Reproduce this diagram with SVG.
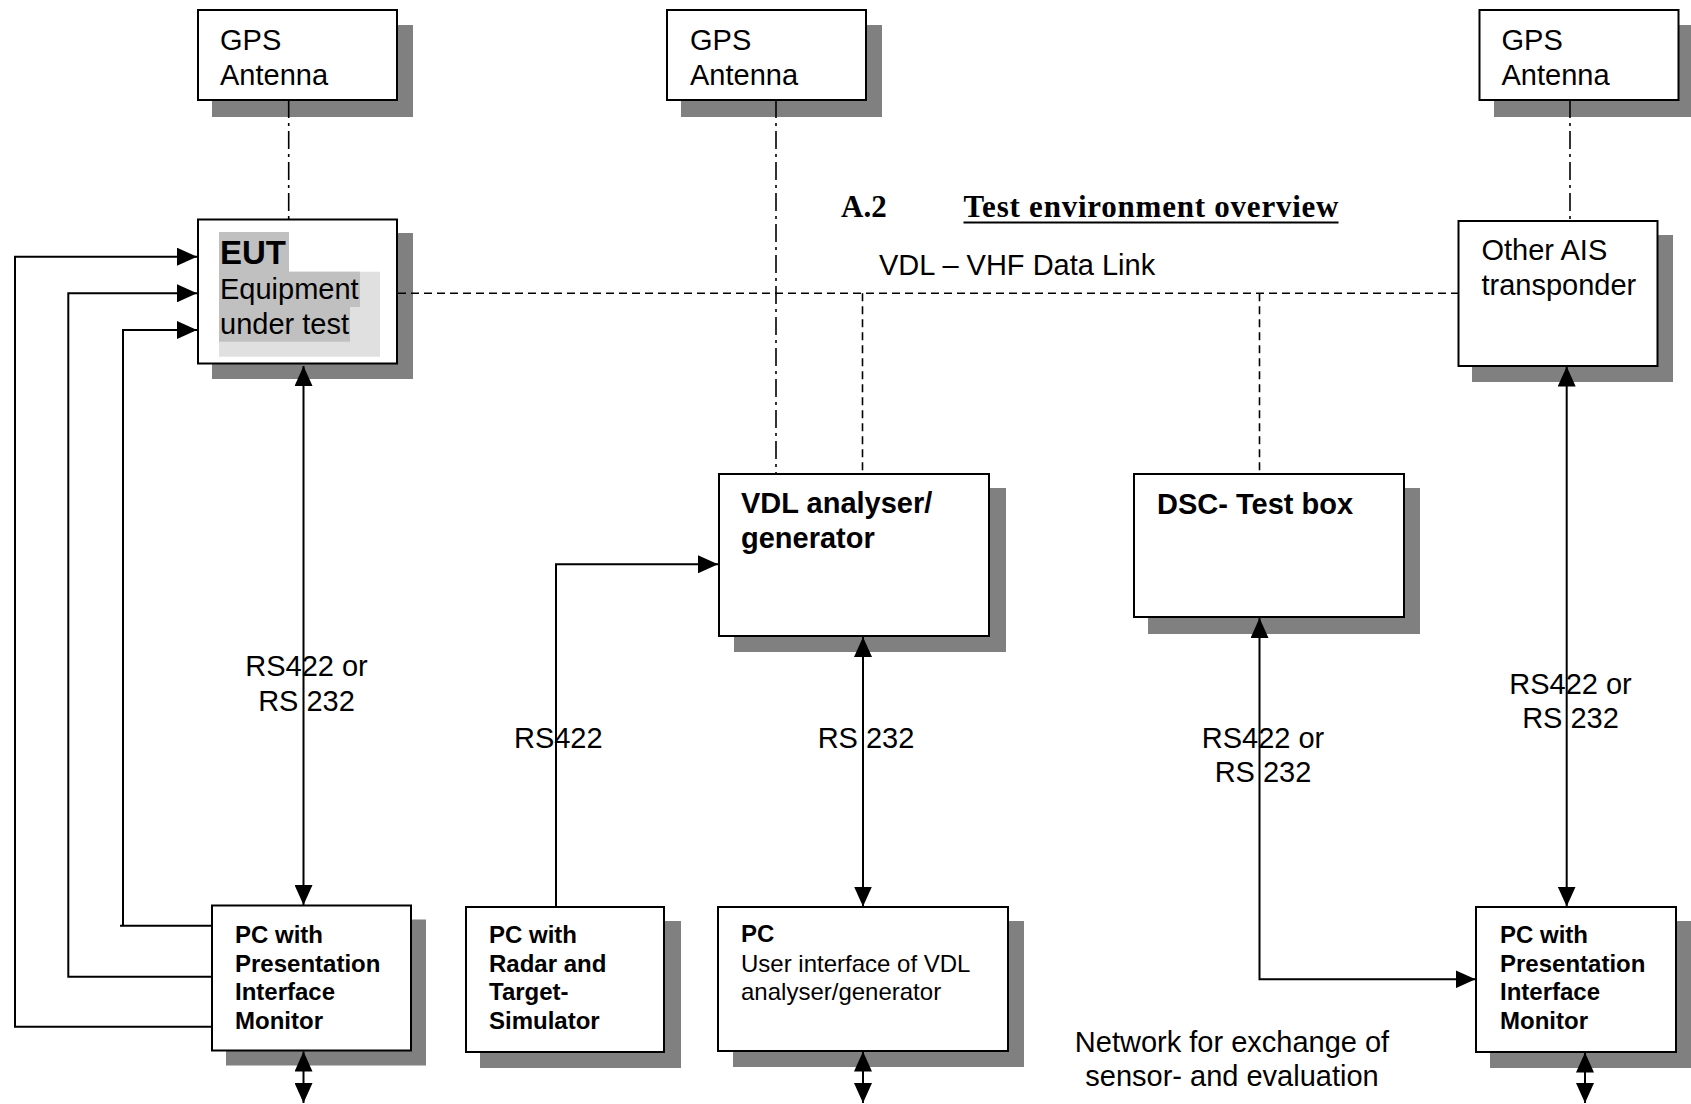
<svg xmlns="http://www.w3.org/2000/svg" width="1691" height="1104" viewBox="0 0 1691 1104">
<style>
.box{fill:#fff;stroke:#000;stroke-width:2}
.sh{fill:#808080}
.t{font-family:"Liberation Sans",Arial,sans-serif;font-size:29px;fill:#000}
.tb{font-family:"Liberation Sans",Arial,sans-serif;font-size:29px;font-weight:bold;fill:#000}
.pb{font-family:"Liberation Sans",Arial,sans-serif;font-size:24px;font-weight:bold;fill:#000}
.pr{font-family:"Liberation Sans",Arial,sans-serif;font-size:24px;fill:#000}
.ln{fill:none;stroke:#000;stroke-width:2}
.dd{fill:none;stroke:#000;stroke-width:1.6;stroke-dasharray:18 5 3 5}
.ds{fill:none;stroke:#000;stroke-width:1.6;stroke-dasharray:8 5}
.title{font-family:"Liberation Serif","Times New Roman",serif;font-size:31px;font-weight:bold;fill:#000}
</style>
<defs>
<marker id="arr" viewBox="0 0 20 18" refX="20" refY="9" markerWidth="20" markerHeight="18" markerUnits="userSpaceOnUse" orient="auto-start-reverse">
<path d="M0,0 L20,9 L0,18 z" fill="#000"/>
</marker>
</defs>

<g id="heading">
<text class="title" x="841" y="217">A.2</text>
<text class="title" x="963.5" y="217" textLength="375" lengthAdjust="spacing">Test environment overview</text>
<line x1="963.5" y1="222.5" x2="1338.5" y2="222.5" stroke="#000" stroke-width="2.2"/>
<text class="t" x="879" y="275">VDL – VHF Data Link</text>
</g>

<g id="gps1">
<rect class="sh" x="212" y="25" width="201" height="92"/>
<rect class="box" x="198" y="10" width="199" height="90"/>
<text class="t" x="220" y="50">GPS</text>
<text class="t" x="220" y="85">Antenna</text>
</g>
<g id="gps2">
<rect class="sh" x="681" y="25" width="201" height="92"/>
<rect class="box" x="667" y="10" width="199" height="90"/>
<text class="t" x="690" y="50">GPS</text>
<text class="t" x="690" y="85">Antenna</text>
</g>
<g id="gps3">
<rect class="sh" x="1494" y="25" width="201" height="92"/>
<rect class="box" x="1479.5" y="10" width="199" height="90"/>
<text class="t" x="1501.5" y="50">GPS</text>
<text class="t" x="1501.5" y="85">Antenna</text>
</g>

<g id="eut">
<rect class="sh" x="212" y="233" width="201" height="146"/>
<rect class="box" x="198" y="219.5" width="199" height="144"/>
<rect x="219" y="271.7" width="161" height="85" fill="#e0e0e0"/>
<rect x="219" y="232" width="70" height="40" fill="#c0c0c0"/>
<rect x="219" y="271.7" width="141" height="35.3" fill="#c0c0c0"/>
<rect x="219" y="306.7" width="131" height="35" fill="#c0c0c0"/>
<text x="220" y="264" font-family="Liberation Sans, Arial, sans-serif" font-size="33" font-weight="bold">EUT</text>
<text class="t" x="220" y="299">Equipment</text>
<text class="t" x="220" y="334">under test</text>
</g>

<g id="other-ais">
<rect class="sh" x="1472" y="235" width="201" height="147"/>
<rect class="box" x="1458.5" y="221" width="199" height="145"/>
<text class="t" x="1481.5" y="260">Other AIS</text>
<text class="t" x="1481.5" y="295">transponder</text>
</g>

<g id="vdl">
<rect class="sh" x="734" y="488" width="272" height="164"/>
<rect class="box" x="719" y="474" width="270" height="162"/>
<text class="tb" x="741" y="513">VDL analyser/</text>
<text class="tb" x="741" y="548">generator</text>
</g>

<g id="dsc">
<rect class="sh" x="1148" y="488" width="272" height="146"/>
<rect class="box" x="1134" y="474" width="270" height="143"/>
<text class="tb" x="1157" y="514">DSC- Test box</text>
</g>

<g id="pc1">
<rect class="sh" x="226" y="919.5" width="200" height="146"/>
<rect class="box" x="212" y="905.5" width="199" height="145"/>
<text class="pb" x="235" y="943">PC with</text>
<text class="pb" x="235" y="971.5">Presentation</text>
<text class="pb" x="235" y="1000">Interface</text>
<text class="pb" x="235" y="1028.5">Monitor</text>
</g>

<g id="pc2">
<rect class="sh" x="480" y="921" width="201" height="147"/>
<rect class="box" x="466" y="907" width="198" height="145"/>
<text class="pb" x="489" y="943">PC with</text>
<text class="pb" x="489" y="971.5">Radar and</text>
<text class="pb" x="489" y="1000">Target-</text>
<text class="pb" x="489" y="1028.5">Simulator</text>
</g>

<g id="pc3">
<rect class="sh" x="733" y="921" width="291" height="146"/>
<rect class="box" x="718" y="907" width="290" height="144"/>
<text class="pb" x="741" y="942">PC</text>
<text class="pr" x="741" y="971.5">User interface of VDL</text>
<text class="pr" x="741" y="1000">analyser/generator</text>
</g>

<g id="pc4">
<rect class="sh" x="1490" y="921" width="205" height="147"/>
<rect class="box" x="1476" y="907" width="200" height="145"/>
<text class="pb" x="1500" y="943">PC with</text>
<text class="pb" x="1500" y="971.5">Presentation</text>
<text class="pb" x="1500" y="1000">Interface</text>
<text class="pb" x="1500" y="1028.5">Monitor</text>
</g>

<g id="network-label">
<text class="t" x="1232" y="1052" text-anchor="middle">Network for exchange of</text>
<text class="t" x="1232" y="1086" text-anchor="middle">sensor- and evaluation</text>
</g>

<g id="connectors">
<line class="dd" x1="288.7" y1="100" x2="288.7" y2="219.5"/>
<line class="dd" x1="776" y1="100" x2="776" y2="474"/>
<line class="dd" x1="1570" y1="100" x2="1570" y2="221"/>
<line class="ds" x1="398" y1="293.3" x2="1458.5" y2="293.3"/>
<line class="ds" x1="862.5" y1="293.3" x2="862.5" y2="474"/>
<line class="ds" x1="1259.5" y1="293.3" x2="1259.5" y2="474"/>

<line class="ln" x1="303.5" y1="366" x2="303.5" y2="905" marker-start="url(#arr)" marker-end="url(#arr)"/>
<polyline class="ln" points="212,1026.7 15,1026.7 15,256.7 197,256.7" marker-end="url(#arr)"/>
<polyline class="ln" points="212,976.7 68.3,976.7 68.3,293.3 197,293.3" marker-end="url(#arr)"/>
<polyline class="ln" points="212,925.7 120,925.7 123,925.7 123,330 197,330" marker-end="url(#arr)"/>

<polyline class="ln" points="556,907 556,564.3 718,564.3" marker-end="url(#arr)"/>
<line class="ln" x1="863" y1="637" x2="863" y2="906.5" marker-start="url(#arr)" marker-end="url(#arr)"/>
<polyline class="ln" points="1259.5,618 1259.5,979.3 1475.5,979.3" marker-start="url(#arr)" marker-end="url(#arr)"/>
<line class="ln" x1="1566.7" y1="366.5" x2="1566.7" y2="906.5" marker-start="url(#arr)" marker-end="url(#arr)"/>

<line class="ln" x1="303.5" y1="1051.5" x2="303.5" y2="1103" marker-start="url(#arr)" marker-end="url(#arr)"/>
<line class="ln" x1="863" y1="1051.5" x2="863" y2="1103" marker-start="url(#arr)" marker-end="url(#arr)"/>
<line class="ln" x1="1585" y1="1052.5" x2="1585" y2="1103" marker-start="url(#arr)" marker-end="url(#arr)"/>

<text class="t" x="306.5" y="676" text-anchor="middle">RS422 or</text>
<text class="t" x="306.5" y="711" text-anchor="middle">RS 232</text>
<text class="t" x="558.3" y="747.7" text-anchor="middle">RS422</text>
<text class="t" x="866" y="747.7" text-anchor="middle">RS 232</text>
<text class="t" x="1263" y="747.7" text-anchor="middle">RS422 or</text>
<text class="t" x="1263" y="781.7" text-anchor="middle">RS 232</text>
<text class="t" x="1570.5" y="694" text-anchor="middle">RS422 or</text>
<text class="t" x="1570.5" y="728" text-anchor="middle">RS 232</text>
</g>
</svg>
